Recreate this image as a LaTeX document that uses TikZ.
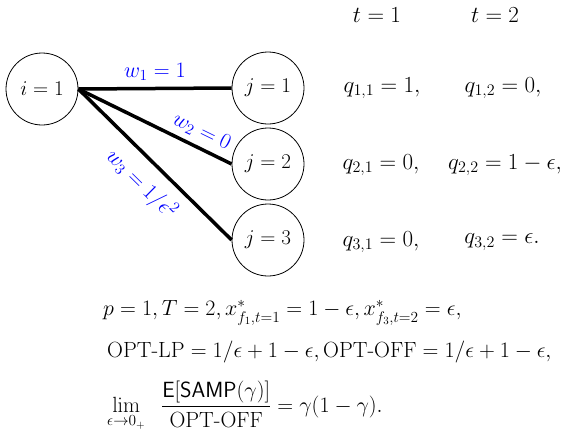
\RequirePackage{fix-cm}
\documentclass[tikz,border=0pt]{standalone}
\usepackage{amsmath,amssymb}
\usetikzlibrary{positioning}

\begin{document}
\begin{tikzpicture}[x=1pt, y=-1pt, every node/.style={font=\fontsize{23}{27}\selectfont}]
    \useasboundingbox (0,0) rectangle (569,439);
    \tikzset{vert/.style={draw, circle, line width=0.8pt, minimum size=72pt, inner sep=0pt,
        font=\fontsize{21}{25}\selectfont},
      wedge/.style={line width=3.5pt},
      wlabel/.style={text=blue, font=\fontsize{22}{26}\selectfont},
      summ/.style={anchor=west, inner sep=0pt, font=\fontsize{22}{26}\selectfont}}
    % Vertices
    \node[vert] (i1) at (42,89) {$i=1$};
    \node[vert] (j1) at (268,88) {$j=1$};
    \node[vert] (j2) at (268,164) {$j=2$};
    \node[vert] (j3) at (268,240) {$j=3$};
    % Edges
    \draw[wedge] (i1.east) -- node[wlabel, above=3pt, pos=0.5] {$w_1=1$} (j1.west);
    \draw[wedge] (i1.east) -- node[wlabel, sloped, above=2pt, pos=0.76] {$w_2=0$} (j2.west);
    \draw[wedge] (i1.east) -- node[wlabel, sloped, below=7pt, pos=0.52] {$w_3=1/\epsilon^2$} (j3.west);
    % Header
    \node (t1) at (377,15) {$t=1$};
    \node (t2) at (495,15) {$t=2$};
    % Rows
    \node (q11) at (382,88) {$q_{1,1}=1,$};
    \node (q12) at (503,88) {$q_{1,2}=0,$};
    \node (q21) at (381,165) {$q_{2,1}=0,$};
    \node (q22) at (505,165) {$q_{2,2}=1-\epsilon,$};
    \node (q31) at (381,242) {$q_{3,1}=0,$};
    \node (q32) at (502,242) {$q_{3,2}=\epsilon.$};
    % Summary
    \node[summ] (s1) at (103,313) {$p=1, T=2, x^*_{f_1,t=1}=1-\epsilon, x^*_{f_3,t=2}=\epsilon,$};
    \node[summ] (s2) at (107,352) {$\text{OPT-LP}=1/\epsilon+1-\epsilon, \text{OPT-OFF}=1/\epsilon+1-\epsilon,$};
    \node[summ] (s3) at (107,406) {$\displaystyle\lim_{\epsilon\to 0_+}\;\;\frac{\mathsf{E}[\mathsf{SAMP}(\gamma)]}{\text{OPT-OFF}}=\gamma(1-\gamma).$};
  \end{tikzpicture}
\end{document}
